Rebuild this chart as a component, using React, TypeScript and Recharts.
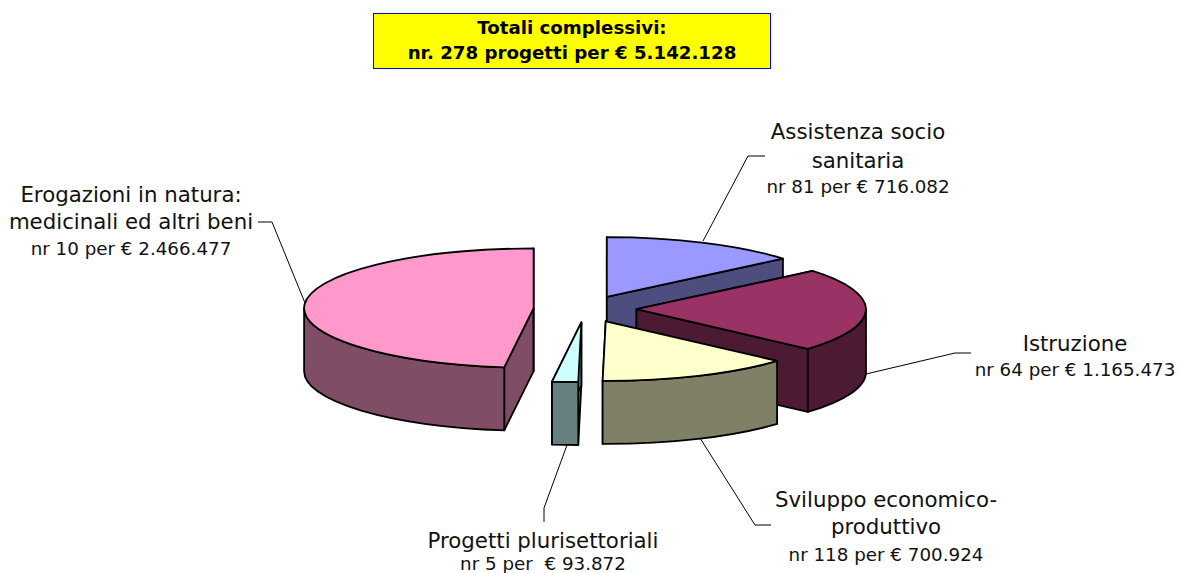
import React from 'react';
import { PieChart, Pie, Cell } from 'recharts';

const categories = [
  'Assistenza socio sanitaria',
  'Istruzione',
  'Sviluppo economico-produttivo',
  'Progetti plurisettoriali',
  'Erogazioni in natura: medicinali ed altri beni',
];
const amounts = [716082, 1165473, 700924, 93872, 2466477];
const topColors = ['#9999FF', '#993366', '#FFFFCC', '#CCFFFF', '#FF99CC'];
const sideColors = ['#4D4D80', '#4D1A33', '#808066', '#668080', '#804D66'];
const titleLines = ['Totali complessivi:', 'nr. 278 progetti per € 5.142.128'];
const nameLines = [
  ['Assistenza socio', 'sanitaria'],
  ['Istruzione'],
  ['Sviluppo economico-', 'produttivo'],
  ['Progetti plurisettoriali'],
  ['Erogazioni in natura:', 'medicinali ed altri beni'],
];
const detailLines = [
  'nr 81 per € 716.082',
  'nr 64 per € 1.165.473',
  'nr 118 per € 700.924',
  'nr 5 per  € 93.872',
  'nr 10 per € 2.466.477',
];

const tableData = categories.map((name, i) => ({ name, value: amounts[i] }));

const TILT = 0.26;
const DEPTH = 63;
const EXPLODE = 51.5;
const RAD = Math.PI / 180;

const labelLayout = [
  { xs: [858, 858], baselines: [139, 168], detailX: 858, detailY: 193, line: '703,241 748,156 765,156' },
  { xs: [1075], baselines: [351], detailX: 1075, detailY: 376, line: '866,374 955,353 971,353' },
  { xs: [886, 886], baselines: [507, 534], detailX: 886, detailY: 561, line: '700,438 755,525 771,525' },
  { xs: [543], baselines: [548], detailX: 543, detailY: 570, line: '567,445 544,508 544,522' },
  { xs: [131, 131], baselines: [202, 229], detailX: 131, detailY: 255, line: '305,303 272,222 258,222' },
];

function Slice3D(props: any) {
  const { cx, cy, outerRadius, startAngle, endAngle, index } = props;
  const rx = outerRadius;
  const ry = rx * TILT;
  const mid = (startAngle + endAngle) / 2;
  const ox = cx + EXPLODE * Math.cos(mid * RAD);
  const oy = cy - EXPLODE * TILT * Math.sin(mid * RAD);
  const pt = (a: number, d = 0) => [ox + rx * Math.cos(a * RAD), oy - ry * Math.sin(a * RAD) + d];
  const f = (p: number[]) => `${p[0].toFixed(2)} ${p[1].toFixed(2)}`;
  const hi = Math.max(startAngle, endAngle);
  const lo = Math.min(startAngle, endAngle);
  const large = hi - lo > 180 ? 1 : 0;
  const side = sideColors[index];
  const cut = (a: number) =>
    `M${ox} ${oy}L${f(pt(a))}L${f(pt(a, DEPTH))}L${ox} ${oy + DEPTH}Z`;
  const wallHi = Math.min(hi, 0);
  const wallLo = Math.max(lo, -180);
  const hasWall = wallHi > wallLo;
  const wallLarge = wallHi - wallLo > 180 ? 1 : 0;
  const common = { stroke: '#000', strokeWidth: 1.8, strokeLinejoin: 'round' as const };
  return (
    <g>
      <path d={cut(hi)} fill={side} {...common} />
      <path d={cut(lo)} fill={side} {...common} />
      {hasWall && (
        <path
          d={`M${f(pt(wallHi))}A${rx} ${ry} 0 ${wallLarge} 1 ${f(pt(wallLo))}L${f(pt(wallLo, DEPTH))}A${rx} ${ry} 0 ${wallLarge} 0 ${f(pt(wallHi, DEPTH))}Z`}
          fill={side}
          {...common}
        />
      )}
      <path
        d={`M${ox} ${oy}L${f(pt(hi))}A${rx} ${ry} 0 ${large} 1 ${f(pt(lo))}Z`}
        fill={topColors[index]}
        {...common}
      />
    </g>
  );
}

function SliceLabel(props: any) {
  const { index } = props;
  const l = labelLayout[index];
  const font = '"DejaVu Sans", Verdana, sans-serif';
  return (
    <g>
      <polyline points={l.line} fill="none" stroke="#000" strokeWidth={1} />
      {nameLines[index].map((t, i) => (
        <text key={i} x={l.xs[i]} y={l.baselines[i]} textAnchor="middle" fontFamily={font} fontSize={21.3} fill="#111">
          {t}
        </text>
      ))}
      <text x={l.detailX} y={l.detailY} textAnchor="middle" fontFamily={font} fontSize={18.3} fill="#111" style={{ whiteSpace: 'pre' }}>
        {detailLines[index]}
      </text>
    </g>
  );
}

export default function App() {
  return (
    <div style={{ position: 'absolute', left: 0, top: 0, width: 1180, height: 573, background: '#fff', overflow: 'hidden' }}>
      <PieChart width={1180} height={573} margin={{ top: 0, right: 0, bottom: 0, left: 0 }}>
        <Pie
          data={tableData}
          dataKey="value"
          nameKey="name"
          cx={585}
          cy={309}
          innerRadius={0}
          outerRadius={229.5}
          startAngle={90}
          endAngle={-270}
          paddingAngle={0}
          isAnimationActive={false}
          shape={Slice3D}
          label={SliceLabel}
          labelLine={false}
          rootTabIndex={-1}
        >
          {tableData.map((d, i) => (
            <Cell key={d.name} fill={topColors[i]} />
          ))}
        </Pie>
      </PieChart>
      <div
        style={{
          position: 'absolute',
          left: 373,
          top: 13,
          width: 396,
          height: 54,
          border: '1px solid #0000FF',
          background: '#FFFF00',
          textAlign: 'center',
          fontFamily: '"DejaVu Sans", Verdana, sans-serif',
          fontWeight: 700,
          fontSize: 18.2,
          lineHeight: '25px',
          color: '#000',
          boxSizing: 'content-box',
          paddingTop: 0,
        }}
      >
        <div style={{ height: 1 }} />
        {titleLines.map((t) => (
          <div key={t}>{t}</div>
        ))}
      </div>
    </div>
  );
}
